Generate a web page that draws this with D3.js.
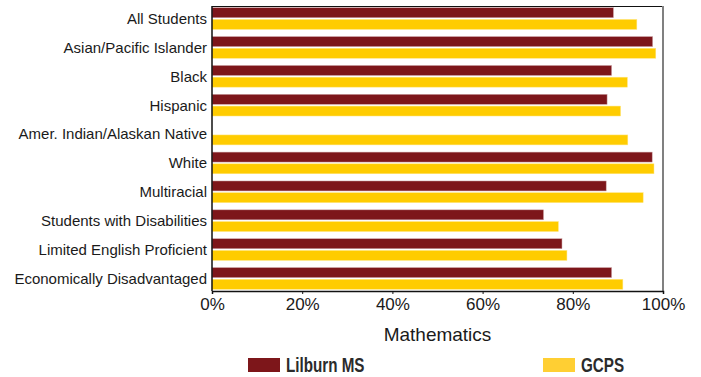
<!DOCTYPE html>
<html>
<head>
<meta charset="utf-8">
<script src="https://cdn.jsdelivr.net/npm/d3@7"></script>
<style>
  html, body { margin: 0; padding: 0; background: #fff; }
  svg { display: block; }
</style>
</head>
<body>
<svg id="chart" width="701" height="377"></svg>
<script>
// Student groups, top to bottom
const categories = [
  "All Students",
  "Asian/Pacific Islander",
  "Black",
  "Hispanic",
  "Amer. Indian/Alaskan Native",
  "White",
  "Multiracial",
  "Students with Disabilities",
  "Limited English Proficient",
  "Economically Disadvantaged"
];
// Percent meeting standard in Mathematics (null = not reported)
const lilburnMS = [89.0, 97.7, 88.6, 87.6, null, 97.6, 87.4, 73.5, 77.6, 88.6];
const gcps      = [94.2, 98.4, 92.1, 90.6, 92.2, 98.0, 95.6, 76.8, 78.7, 91.1];
const seriesNames = ["Lilburn MS", "GCPS"];
const tickValues = [0, 20, 40, 60, 80, 100];
const axisTitle = "Mathematics";

const colors = { "Lilburn MS": "#7d161a", "GCPS": "#ffcc00" };
const legendColors = { "Lilburn MS": "#7d161a", "GCPS": "#ffcf33" };

const svg = d3.select("#chart");
const plot = { left: 212, right: 663, top: 6, bottom: 291 };

const x = d3.scaleLinear().domain([0, 100]).range([plot.left, plot.right]);
const y = d3.scaleBand().domain(categories).range([plot.top, plot.bottom])
  .paddingInner(0.25).paddingOuter(0.06);
const ySub = d3.scaleBand().domain(seriesNames).range([0, y.bandwidth()])
  .paddingInner(0.15);

const rows = categories.map((c, i) => ({
  category: c,
  values: [
    { series: "Lilburn MS", value: lilburnMS[i] },
    { series: "GCPS", value: gcps[i] }
  ]
}));

// frame: top edge and right edge
svg.append("line").attr("x1", plot.left).attr("x2", plot.right)
  .attr("y1", plot.top + 0.5).attr("y2", plot.top + 0.5)
  .attr("stroke", "#111").attr("stroke-width", 1);
svg.append("line").attr("x1", plot.right).attr("x2", plot.right)
  .attr("y1", plot.top).attr("y2", plot.bottom)
  .attr("stroke", "#808080").attr("stroke-width", 2);

// bars
const groups = svg.append("g").selectAll("g").data(rows).join("g")
  .attr("transform", d => `translate(0,${y(d.category)})`);
groups.selectAll("rect")
  .data(d => d.values.filter(v => v.value != null))
  .join("rect")
  .attr("x", x(0))
  .attr("y", d => ySub(d.series))
  .attr("width", d => x(d.value) - x(0))
  .attr("height", ySub.bandwidth())
  .attr("fill", d => colors[d.series])
  .attr("stroke", d => d.series === "GCPS" ? "#ffe680" : "#c9a0a2")
  .attr("stroke-width", 0.5);

// category labels
svg.append("g").selectAll("text").data(categories).join("text")
  .attr("x", plot.left - 5)
  .attr("y", d => y(d) + y.bandwidth() / 2)
  .attr("dy", "0.36em")
  .attr("text-anchor", "end")
  .attr("font-family", "'Liberation Sans', Arial, Helvetica, sans-serif")
  .attr("font-size", 15)
  .attr("fill", "#1a1a1a")
  .text(d => d);

// left axis line
svg.append("line").attr("x1", plot.left).attr("x2", plot.left)
  .attr("y1", plot.top).attr("y2", plot.bottom)
  .attr("stroke", "#111").attr("stroke-width", 1.5);

// bottom axis
const xAxis = d3.axisBottom(x).tickValues(tickValues).tickSize(3).tickPadding(4)
  .tickFormat(d => d + "%");
const gx = svg.append("g").attr("transform", `translate(0,${plot.bottom})`).call(xAxis);
gx.select(".domain").attr("stroke", "#111").attr("stroke-width", 1.5);
gx.selectAll(".tick line").attr("stroke", "#111");
gx.selectAll(".tick text")
  .attr("font-family", "'Liberation Sans', Arial, Helvetica, sans-serif")
  .attr("font-size", 17)
  .attr("fill", "#1a1a1a");

// axis title
svg.append("text")
  .attr("x", (plot.left + plot.right) / 2)
  .attr("y", 341)
  .attr("text-anchor", "middle")
  .attr("font-family", "'Liberation Sans', Arial, Helvetica, sans-serif")
  .attr("font-size", 19)
  .attr("fill", "#1a1a1a")
  .text(axisTitle);

// legend (condensed bold labels)
const legendX = { "Lilburn MS": 248, "GCPS": 543 };
const legend = svg.append("g").selectAll("g").data(seriesNames).join("g")
  .attr("transform", d => `translate(${legendX[d]},358)`);
legend.append("rect")
  .attr("width", 32).attr("height", 14)
  .attr("fill", d => legendColors[d]);
legend.append("text")
  .attr("transform", "translate(38,14) scale(0.78,1)")
  .attr("font-family", "'Liberation Sans', Arial, sans-serif")
  .attr("font-weight", "bold")
  .attr("font-size", 19.5)
  .attr("fill", "#2b2b2b")
  .text(d => d);
</script>
</body>
</html>
